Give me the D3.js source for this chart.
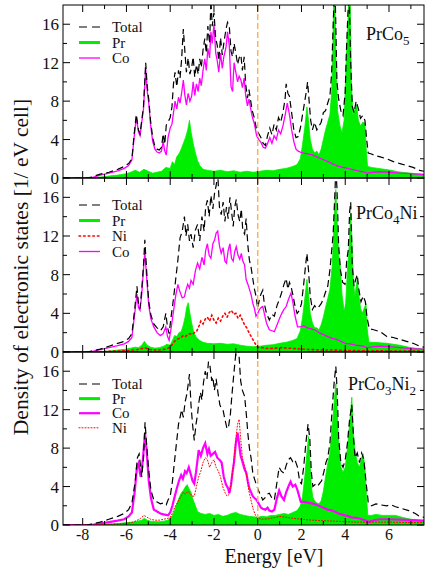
<!DOCTYPE html>
<html><head><meta charset="utf-8">
<script src="https://cdn.jsdelivr.net/npm/d3@7/dist/d3.min.js"></script>
<style>body{margin:0;background:#fff}svg{display:block}text{font-family:'Liberation Serif','Times New Roman',Times,'DejaVu Serif',serif;fill:#111}</style>
</head><body>
<script>
// ---------- data (energy [eV], DOS [1/eV cell]) ----------
const xTicks = [-8,-6,-4,-2,0,2,4,6];
const yTicks = [0,4,8,12,16];
const panelNames = [["PrCo","5",""],["PrCo","4","Ni"],["PrCo","3","Ni","2"]];

const total1 = [[-8.9,0],[-7.8,0],[-7.6,0.1],[-7.2,0.4],[-6.8,0.6],[-6.4,0.9],[-6.1,1.2],[-5.9,1.5],[-5.75,2.0],[-5.65,4.5],[-5.55,6.6],[-5.45,5.0],[-5.38,4.6],[-5.3,6.0],[-5.22,7.5],[-5.12,12.0],[-5.05,9.5],[-4.98,8.2],[-4.9,6.0],[-4.8,4.2],[-4.7,3.3],[-4.6,3.0],[-4.5,2.9],[-4.4,3.2],[-4.32,4.6],[-4.25,3.5],[-4.18,5.5],[-4.1,5.8],[-4.0,6.3],[-3.92,7.4],[-3.85,9.8],[-3.78,11.0],[-3.7,9.5],[-3.62,11.2],[-3.55,10.4],[-3.48,12.3],[-3.4,15.5],[-3.33,13.2],[-3.26,11.0],[-3.18,12.5],[-3.1,10.8],[-3.02,11.5],[-2.95,12.6],[-2.88,10.5],[-2.8,11.8],[-2.72,10.8],[-2.65,12.4],[-2.58,11.5],[-2.5,13.3],[-2.42,14.5],[-2.35,13.0],[-2.28,15.8],[-2.2,14.0],[-2.14,18.5],[-2.08,15.8],[-2.0,17.2],[-1.92,14.5],[-1.85,13.8],[-1.78,12.2],[-1.7,14.6],[-1.62,12.8],[-1.55,14.0],[-1.45,15.5],[-1.38,16.2],[-1.3,15.8],[-1.22,13.2],[-1.15,12.6],[-1.08,14.0],[-1.0,13.0],[-0.92,11.8],[-0.85,12.5],[-0.77,12.8],[-0.7,11.2],[-0.62,12.6],[-0.55,9.8],[-0.47,8.3],[-0.4,9.2],[-0.32,8.0],[-0.25,7.0],[-0.15,6.2],[-0.05,5.0],[0.05,4.6],[0.15,4.2],[0.25,3.6],[0.35,3.4],[0.45,4.4],[0.55,5.2],[0.65,4.5],[0.75,5.6],[0.85,5.0],[0.95,6.3],[1.05,5.8],[1.15,6.8],[1.25,8.2],[1.3,9.8],[1.38,8.8],[1.45,8.5],[1.55,6.8],[1.65,5.0],[1.75,4.2],[1.85,4.3],[1.95,5.2],[2.05,6.6],[2.15,8.0],[2.22,9.0],[2.28,10.0],[2.35,8.0],[2.42,6.0],[2.5,5.0],[2.6,5.8],[2.7,5.0],[2.8,5.4],[2.9,5.8],[3.0,6.8],[3.1,7.0],[3.2,7.8],[3.3,8.5],[3.38,11],[3.45,16],[3.5,19],[3.55,18],[3.62,10],[3.7,8.2],[3.8,7.0],[3.9,6.5],[4.0,9.0],[4.05,13.0],[4.12,17],[4.18,19],[4.25,12],[4.32,7.5],[4.4,6.8],[4.5,8.0],[4.6,7.2],[4.7,6.2],[4.8,6.5],[4.9,6.0],[4.98,4.0],[5.05,2.6],[5.2,2.5],[5.4,2.3],[5.6,2.2],[5.9,2.0],[6.2,1.7],[6.5,1.5],[6.8,1.3],[7.1,1.1],[7.4,0.8],[7.6,0.7]];
const co1 = [[-8.9,0],[-7.7,0],[-7.5,0.1],[-7.2,0.3],[-6.8,0.5],[-6.4,0.75],[-6.1,1.0],[-5.9,1.3],[-5.75,1.9],[-5.65,4.2],[-5.55,6.3],[-5.45,4.8],[-5.38,4.4],[-5.3,5.8],[-5.22,7.2],[-5.12,11.4],[-5.05,9.0],[-4.98,7.8],[-4.9,5.6],[-4.8,3.8],[-4.7,3.0],[-4.6,2.7],[-4.5,2.6],[-4.4,2.8],[-4.32,3.8],[-4.25,2.8],[-4.18,2.4],[-4.1,4.2],[-4.0,5.2],[-3.92,5.6],[-3.85,6.8],[-3.78,8.0],[-3.7,7.2],[-3.62,8.4],[-3.55,7.8],[-3.48,8.8],[-3.4,10.2],[-3.33,8.6],[-3.26,7.6],[-3.18,8.8],[-3.1,8.0],[-3.02,8.5],[-2.95,10.0],[-2.88,8.6],[-2.8,9.8],[-2.72,9.0],[-2.65,10.4],[-2.58,9.6],[-2.5,11.2],[-2.42,12.4],[-2.35,11.2],[-2.28,13.5],[-2.2,12.5],[-2.14,15.2],[-2.08,14.0],[-2.0,16.0],[-1.92,13.0],[-1.85,12.2],[-1.78,11.0],[-1.7,13.0],[-1.62,11.4],[-1.55,12.6],[-1.45,13.6],[-1.38,15.2],[-1.3,13.8],[-1.22,9.5],[-1.15,9.0],[-1.08,12.0],[-1.0,11.0],[-0.92,10.0],[-0.85,10.6],[-0.77,10.2],[-0.7,9.4],[-0.62,10.4],[-0.55,8.6],[-0.47,7.5],[-0.4,8.2],[-0.32,7.2],[-0.25,6.4],[-0.15,5.6],[-0.05,4.4],[0.05,4.0],[0.15,3.7],[0.25,3.2],[0.35,3.1],[0.45,3.6],[0.55,4.2],[0.65,3.6],[0.75,4.4],[0.85,4.0],[0.95,5.0],[1.05,4.6],[1.15,5.4],[1.25,6.5],[1.35,7.8],[1.45,6.6],[1.55,5.0],[1.65,3.8],[1.75,3.0],[1.85,2.8],[1.95,2.7],[2.1,2.6],[2.3,2.5],[2.5,2.4],[2.7,2.2],[2.9,2.0],[3.1,1.8],[3.3,1.6],[3.5,1.4],[3.7,1.2],[3.9,1.1],[4.1,1.0],[4.3,0.9],[4.5,0.8],[4.8,0.65],[5.0,0.5],[5.3,0.6],[5.6,0.65],[6.0,0.6],[6.5,0.5],[7.0,0.45],[7.6,0.35]];
const pr1 = [[-8.9,0],[-7.6,0],[-7.2,0.1],[-6.8,0.2],[-6.4,0.3],[-6.0,0.45],[-5.8,0.6],[-5.6,0.8],[-5.4,0.6],[-5.2,0.9],[-5.0,0.7],[-4.8,0.5],[-4.6,0.6],[-4.4,0.7],[-4.2,1.1],[-4.0,1.0],[-3.9,1.7],[-3.8,1.4],[-3.7,2.2],[-3.6,2.5],[-3.5,3.0],[-3.4,3.6],[-3.3,4.2],[-3.2,5.0],[-3.12,6.0],[-3.05,4.8],[-2.95,3.6],[-2.85,2.6],[-2.75,1.8],[-2.65,1.3],[-2.5,0.9],[-2.3,0.8],[-2.0,0.7],[-1.7,0.8],[-1.4,0.65],[-1.1,0.75],[-0.8,0.6],[-0.5,0.7],[-0.2,0.6],[0.1,0.7],[0.4,0.8],[0.7,0.75],[1.0,0.9],[1.3,1.0],[1.6,1.2],[1.8,1.4],[1.95,2.0],[2.05,3.5],[2.15,5.2],[2.25,7.4],[2.32,6.0],[2.4,4.0],[2.5,3.0],[2.6,2.6],[2.7,2.8],[2.8,2.4],[2.9,3.0],[3.0,4.0],[3.1,5.0],[3.2,5.8],[3.3,6.6],[3.38,9.0],[3.44,14],[3.48,20],[3.52,20],[3.58,12],[3.65,7.0],[3.75,5.5],[3.85,4.7],[3.95,6.0],[4.05,12.5],[4.12,16],[4.18,20],[4.22,20],[4.28,10],[4.35,6.5],[4.45,7.2],[4.52,7.6],[4.6,6.0],[4.7,5.4],[4.8,5.8],[4.9,5.7],[4.96,3.0],[5.02,1.2],[5.2,1.1],[5.5,1.0],[5.8,0.9],[6.1,0.8],[6.4,0.65],[6.8,0.55],[7.2,0.45],[7.6,0.4]];

const total2 = [[-8.9,0],[-7.8,0],[-7.6,0.1],[-7.2,0.3],[-6.8,0.6],[-6.4,0.9],[-6.1,1.1],[-5.9,1.4],[-5.75,1.9],[-5.62,4.5],[-5.52,6.8],[-5.45,5.0],[-5.38,4.5],[-5.3,6.5],[-5.22,9.0],[-5.16,11.6],[-5.08,8.5],[-4.98,5.2],[-4.88,3.8],[-4.75,2.9],[-4.6,2.5],[-4.45,2.2],[-4.32,2.6],[-4.2,4.0],[-4.12,2.5],[-4.05,1.9],[-3.95,3.8],[-3.85,5.5],[-3.75,7.5],[-3.65,9.5],[-3.55,11.8],[-3.45,12.5],[-3.35,14.0],[-3.28,12.0],[-3.2,13.2],[-3.12,11.5],[-3.05,12.2],[-2.95,10.8],[-2.85,12.6],[-2.75,13.2],[-2.65,11.5],[-2.55,14.0],[-2.45,12.5],[-2.38,15.0],[-2.3,15.7],[-2.22,14.0],[-2.14,16.2],[-2.05,14.8],[-1.97,16.5],[-1.9,17.2],[-1.83,18.5],[-1.75,15.0],[-1.67,14.2],[-1.58,15.5],[-1.5,13.5],[-1.43,15.0],[-1.35,13.8],[-1.27,16.0],[-1.2,14.6],[-1.12,13.0],[-1.05,15.0],[-0.98,15.8],[-0.9,14.2],[-0.82,13.5],[-0.75,14.8],[-0.68,12.5],[-0.6,12.2],[-0.53,13.8],[-0.45,11.0],[-0.38,9.5],[-0.3,8.7],[-0.22,7.5],[-0.15,6.5],[-0.08,5.8],[0.0,4.5],[0.08,5.5],[0.15,6.0],[0.23,6.4],[0.3,5.0],[0.4,4.0],[0.53,3.3],[0.65,3.9],[0.76,3.7],[0.88,4.8],[1.0,5.5],[1.1,6.2],[1.2,7.0],[1.3,7.6],[1.38,6.5],[1.45,7.2],[1.52,6.8],[1.6,6.0],[1.7,4.8],[1.8,4.0],[1.9,4.3],[2.0,5.0],[2.1,7.0],[2.18,8.8],[2.25,10.2],[2.32,8.5],[2.4,5.8],[2.5,4.4],[2.6,4.8],[2.7,4.5],[2.8,4.7],[2.9,5.0],[3.0,5.5],[3.1,6.2],[3.2,6.8],[3.3,8.5],[3.4,11.0],[3.45,12.3],[3.52,16],[3.57,19],[3.62,17],[3.7,11],[3.78,8.5],[3.88,7.2],[3.99,7.0],[4.07,9.5],[4.14,10.6],[4.2,14.5],[4.25,15.5],[4.32,9.0],[4.4,6.8],[4.48,7.5],[4.55,8.0],[4.62,6.5],[4.72,5.2],[4.82,5.8],[4.92,5.2],[5.0,3.5],[5.1,2.4],[5.3,2.3],[5.6,2.1],[5.9,1.6],[6.2,1.5],[6.5,1.3],[6.8,1.1],[7.1,0.9],[7.4,0.6],[7.6,0.5]];
const co2 = [[-8.9,0],[-7.7,0],[-7.5,0.1],[-7.2,0.25],[-6.8,0.45],[-6.4,0.65],[-6.1,0.85],[-5.9,1.1],[-5.75,1.5],[-5.62,4.0],[-5.52,6.0],[-5.45,4.6],[-5.38,4.3],[-5.3,6.0],[-5.22,8.6],[-5.16,10.4],[-5.08,7.8],[-4.98,4.8],[-4.88,3.4],[-4.75,2.6],[-4.6,2.0],[-4.45,1.7],[-4.32,1.9],[-4.2,2.6],[-4.12,1.6],[-4.05,1.2],[-3.95,2.6],[-3.85,4.2],[-3.75,5.8],[-3.65,7.0],[-3.55,6.2],[-3.45,5.6],[-3.35,5.7],[-3.28,6.4],[-3.2,7.0],[-3.12,6.6],[-3.05,7.4],[-2.95,7.0],[-2.85,8.4],[-2.75,9.2],[-2.65,8.6],[-2.55,9.8],[-2.45,9.0],[-2.38,10.5],[-2.3,11.2],[-2.22,10.0],[-2.14,9.7],[-2.05,11.2],[-1.97,11.6],[-1.9,12.3],[-1.83,12.5],[-1.75,11.0],[-1.67,10.2],[-1.58,10.8],[-1.5,9.4],[-1.43,9.2],[-1.35,10.5],[-1.27,11.2],[-1.2,9.7],[-1.12,9.4],[-1.05,10.4],[-0.98,10.9],[-0.9,10.0],[-0.82,9.6],[-0.75,10.2],[-0.68,9.4],[-0.6,9.0],[-0.53,7.5],[-0.45,7.0],[-0.38,6.5],[-0.3,5.9],[-0.22,5.0],[-0.15,4.5],[-0.08,3.7],[0.0,4.0],[0.08,4.4],[0.15,4.6],[0.23,4.7],[0.3,4.0],[0.4,3.0],[0.53,2.3],[0.65,2.2],[0.76,2.1],[0.88,2.8],[1.0,3.5],[1.1,4.0],[1.2,4.4],[1.3,4.7],[1.4,5.4],[1.52,6.1],[1.6,5.2],[1.7,3.8],[1.82,2.6],[1.95,2.6],[2.1,2.7],[2.27,2.5],[2.45,2.4],[2.6,2.3],[2.8,2.0],[3.0,1.8],[3.2,1.6],[3.4,1.4],[3.6,1.3],[3.8,1.1],[4.0,0.9],[4.2,0.85],[4.5,0.7],[4.8,0.6],[5.0,0.45],[5.3,0.55],[5.6,0.6],[6.0,0.55],[6.5,0.45],[7.0,0.35],[7.6,0.3]];
const ni2 = [[-8.9,0],[-7.5,0],[-7.0,0.05],[-6.5,0.1],[-6.0,0.12],[-5.7,0.2],[-5.5,0.25],[-5.3,0.35],[-5.15,0.45],[-5.0,0.3],[-4.8,0.2],[-4.6,0.2],[-4.4,0.25],[-4.2,0.3],[-4.0,0.5],[-3.9,0.8],[-3.8,1.1],[-3.7,1.3],[-3.6,1.4],[-3.5,1.5],[-3.4,1.7],[-3.3,1.6],[-3.2,1.8],[-3.1,1.9],[-3.0,1.8],[-2.9,2.0],[-2.8,2.1],[-2.7,2.6],[-2.6,3.2],[-2.5,2.9],[-2.4,3.4],[-2.3,3.6],[-2.2,3.2],[-2.1,3.8],[-2.0,3.3],[-1.9,3.0],[-1.8,3.5],[-1.7,3.2],[-1.6,3.7],[-1.5,4.0],[-1.4,3.6],[-1.3,4.1],[-1.2,4.3],[-1.1,3.9],[-1.0,4.0],[-0.9,3.5],[-0.8,3.8],[-0.7,3.3],[-0.6,2.8],[-0.5,2.5],[-0.4,2.0],[-0.3,1.6],[-0.2,1.2],[-0.1,0.8],[0.0,0.5],[0.2,0.45],[0.5,0.35],[0.8,0.4],[1.1,0.45],[1.4,0.4],[1.7,0.35],[2.0,0.3],[2.5,0.25],[3.0,0.2],[3.5,0.2],[4.0,0.15],[4.5,0.15],[5.0,0.1],[5.5,0.12],[6.0,0.1],[7.0,0.1],[7.6,0.08]];
const pr2 = [[-8.9,0],[-7.6,0],[-7.2,0.05],[-6.8,0.1],[-6.4,0.2],[-6.0,0.3],[-5.8,0.4],[-5.6,0.5],[-5.45,0.45],[-5.3,0.7],[-5.18,1.1],[-5.05,0.7],[-4.9,0.5],[-4.7,0.4],[-4.5,0.45],[-4.3,0.6],[-4.15,0.8],[-4.0,0.7],[-3.9,1.2],[-3.8,1.7],[-3.7,1.6],[-3.6,2.0],[-3.5,2.1],[-3.4,2.8],[-3.32,3.6],[-3.25,4.6],[-3.18,5.1],[-3.1,4.0],[-3.02,3.0],[-2.92,2.0],[-2.8,1.5],[-2.65,1.2],[-2.5,1.0],[-2.3,0.9],[-2.0,0.85],[-1.7,0.9],[-1.4,0.8],[-1.1,0.85],[-0.8,0.7],[-0.5,0.6],[-0.2,0.55],[0.1,0.6],[0.4,0.7],[0.7,0.75],[1.0,0.9],[1.3,1.0],[1.6,1.2],[1.8,1.4],[1.95,2.2],[2.05,3.6],[2.15,5.5],[2.25,7.5],[2.32,6.0],[2.4,4.0],[2.5,3.0],[2.6,2.5],[2.7,2.5],[2.8,2.3],[2.9,2.8],[3.0,3.6],[3.1,4.6],[3.2,5.5],[3.3,6.5],[3.4,8.8],[3.47,12],[3.53,15.5],[3.57,16.8],[3.62,14],[3.7,10],[3.76,9.2],[3.85,6.0],[3.95,4.2],[4.02,5.0],[4.1,8.5],[4.18,11],[4.25,14.4],[4.3,12],[4.37,7.5],[4.44,5.7],[4.5,6.8],[4.55,7.5],[4.62,6.0],[4.7,4.5],[4.78,4.0],[4.88,4.6],[4.95,5.0],[5.0,2.5],[5.08,1.0],[5.3,1.0],[5.6,0.95],[5.9,0.9],[6.2,0.8],[6.5,0.7],[6.9,0.5],[7.2,0.4],[7.6,0.3]];

const total3 = [[-8.9,0],[-7.8,0],[-7.6,0.1],[-7.2,0.3],[-6.8,0.6],[-6.4,0.9],[-6.1,1.2],[-5.9,1.6],[-5.75,2.3],[-5.6,4.5],[-5.5,7.0],[-5.42,7.4],[-5.3,5.0],[-5.22,7.0],[-5.15,10.7],[-5.08,8.5],[-4.98,5.6],[-4.88,3.6],[-4.75,2.6],[-4.6,2.4],[-4.45,2.2],[-4.3,2.3],[-4.18,2.1],[-4.1,2.6],[-4.0,3.0],[-3.9,4.5],[-3.8,6.7],[-3.7,8.8],[-3.62,10.5],[-3.55,11.2],[-3.48,12.0],[-3.4,11.2],[-3.32,12.8],[-3.25,13.5],[-3.18,14.6],[-3.12,15.7],[-3.05,12.5],[-2.98,10.5],[-2.9,8.8],[-2.82,10.5],[-2.75,11.5],[-2.7,12.6],[-2.62,13.8],[-2.55,13.0],[-2.48,14.8],[-2.4,16.0],[-2.32,15.2],[-2.25,17.0],[-2.18,16.5],[-2.1,15.0],[-2.05,15.4],[-1.98,14.0],[-1.9,15.2],[-1.82,13.8],[-1.73,12.5],[-1.64,12.0],[-1.58,11.9],[-1.5,11.0],[-1.4,10.0],[-1.33,10.3],[-1.25,11.5],[-1.18,13.5],[-1.1,15.5],[-1.03,17.2],[-0.97,18.5],[-0.9,19],[-0.85,17.5],[-0.78,15.0],[-0.7,14.0],[-0.6,13.4],[-0.52,11.5],[-0.45,9.5],[-0.38,8.0],[-0.3,6.9],[-0.23,5.5],[-0.15,4.8],[-0.05,4.1],[0.05,3.5],[0.15,3.0],[0.23,2.6],[0.32,2.8],[0.42,3.2],[0.53,3.3],[0.65,2.8],[0.76,2.6],[0.85,4.0],[0.98,6.0],[1.08,5.6],[1.2,5.4],[1.3,6.2],[1.4,6.8],[1.5,7.0],[1.6,6.6],[1.7,6.8],[1.82,6.0],[1.92,4.5],[2.0,4.3],[2.1,6.0],[2.2,8.5],[2.3,10.5],[2.38,9.0],[2.45,5.5],[2.52,4.0],[2.62,4.2],[2.72,4.0],[2.82,4.3],[2.92,4.6],[3.02,5.5],[3.12,6.5],[3.2,7.0],[3.3,8.5],[3.4,12.0],[3.5,15.0],[3.57,16.5],[3.63,14.0],[3.7,9.0],[3.8,6.5],[3.9,6.0],[4.0,6.8],[4.1,8.5],[4.2,11.0],[4.3,12.5],[4.38,9.0],[4.45,7.0],[4.55,7.5],[4.65,6.5],[4.75,7.5],[4.85,6.8],[4.95,4.5],[5.05,2.4],[5.2,2.0],[5.4,2.2],[5.6,2.1],[5.9,2.0],[6.1,2.1],[6.3,1.9],[6.6,1.7],[6.9,1.5],[7.2,1.2],[7.4,0.9],[7.6,0.8]];
const co3 = [[-8.9,0],[-7.7,0],[-7.5,0.05],[-7.2,0.15],[-6.8,0.3],[-6.4,0.45],[-6.1,0.6],[-5.9,0.9],[-5.75,1.3],[-5.62,3.5],[-5.52,6.0],[-5.45,6.4],[-5.35,5.0],[-5.25,6.8],[-5.15,9.5],[-5.08,7.8],[-4.98,4.6],[-4.88,2.8],[-4.75,1.6],[-4.6,1.4],[-4.45,1.2],[-4.3,1.1],[-4.1,1.0],[-4.0,1.3],[-3.9,2.0],[-3.8,2.9],[-3.7,3.8],[-3.6,4.6],[-3.5,5.2],[-3.42,4.8],[-3.32,5.6],[-3.25,5.4],[-3.15,6.0],[-3.05,5.2],[-2.98,4.6],[-2.9,4.3],[-2.82,5.5],[-2.75,6.8],[-2.7,7.8],[-2.6,7.2],[-2.5,8.0],[-2.4,8.5],[-2.3,7.4],[-2.23,7.9],[-2.15,7.2],[-2.05,7.4],[-1.95,7.6],[-1.85,7.0],[-1.75,6.8],[-1.65,6.5],[-1.55,5.0],[-1.45,4.2],[-1.35,3.8],[-1.3,3.3],[-1.22,4.2],[-1.15,5.5],[-1.08,6.6],[-1.0,8.5],[-0.92,9.6],[-0.85,8.4],[-0.78,7.2],[-0.7,6.6],[-0.6,5.8],[-0.52,5.4],[-0.45,4.5],[-0.38,3.8],[-0.3,3.4],[-0.23,3.0],[-0.15,2.8],[-0.05,2.6],[0.05,2.2],[0.15,1.8],[0.23,1.7],[0.35,1.6],[0.45,1.8],[0.53,1.5],[0.65,1.4],[0.76,1.6],[0.88,2.8],[0.98,3.6],[1.08,3.0],[1.2,2.6],[1.3,3.4],[1.4,4.0],[1.5,4.5],[1.6,4.0],[1.72,4.2],[1.82,3.6],[1.97,2.4],[2.1,2.4],[2.35,2.3],[2.55,2.2],[2.8,2.0],[3.0,1.8],[3.2,1.6],[3.4,1.5],[3.6,1.3],[3.8,1.1],[4.0,1.0],[4.3,0.8],[4.6,0.7],[4.9,0.5],[5.1,0.3],[5.3,0.5],[5.6,0.6],[6.0,0.6],[6.5,0.55],[7.0,0.5],[7.6,0.45]];
const ni3 = [[-8.9,0],[-7.5,0],[-7.0,0.05],[-6.5,0.1],[-6.0,0.15],[-5.7,0.3],[-5.5,0.5],[-5.35,0.7],[-5.2,1.0],[-5.05,0.8],[-4.9,0.6],[-4.7,0.5],[-4.5,0.5],[-4.3,0.6],[-4.1,0.7],[-4.0,0.8],[-3.9,1.2],[-3.8,1.8],[-3.7,2.2],[-3.6,2.6],[-3.5,3.0],[-3.4,3.4],[-3.3,3.2],[-3.2,3.5],[-3.1,3.3],[-3.0,3.0],[-2.9,3.0],[-2.8,4.0],[-2.7,5.0],[-2.6,5.6],[-2.5,6.5],[-2.4,7.0],[-2.3,6.8],[-2.2,6.0],[-2.1,6.5],[-2.0,6.8],[-1.9,6.0],[-1.8,5.6],[-1.7,5.0],[-1.6,4.0],[-1.5,3.4],[-1.4,3.0],[-1.3,3.2],[-1.2,4.5],[-1.1,6.5],[-1.0,9.0],[-0.92,10.5],[-0.85,11.0],[-0.78,9.0],[-0.7,7.0],[-0.6,6.2],[-0.5,5.0],[-0.4,3.5],[-0.3,2.5],[-0.2,1.6],[-0.1,1.0],[0.0,0.7],[0.2,0.6],[0.5,0.65],[0.8,0.8],[1.0,0.9],[1.3,0.8],[1.6,0.7],[2.0,0.6],[2.5,0.5],[3.0,0.45],[3.5,0.4],[4.0,0.35],[4.5,0.3],[5.0,0.3],[5.5,0.3],[6.0,0.3],[7.0,0.25],[7.6,0.25]];
const pr3 = [[-8.9,0],[-7.6,0],[-7.2,0.05],[-6.8,0.1],[-6.4,0.15],[-6.0,0.25],[-5.7,0.3],[-5.5,0.4],[-5.3,0.5],[-5.18,0.7],[-5.05,0.5],[-4.9,0.4],[-4.7,0.35],[-4.5,0.35],[-4.3,0.4],[-4.1,0.5],[-4.0,0.7],[-3.9,1.0],[-3.8,1.5],[-3.7,2.2],[-3.6,2.8],[-3.5,3.3],[-3.4,3.6],[-3.3,4.0],[-3.22,4.2],[-3.15,3.8],[-3.05,3.4],[-2.95,2.6],[-2.85,2.0],[-2.75,1.4],[-2.6,1.2],[-2.4,1.1],[-2.2,1.2],[-2.0,1.0],[-1.8,1.1],[-1.6,0.9],[-1.4,1.0],[-1.2,1.2],[-1.0,1.3],[-0.8,1.1],[-0.6,1.0],[-0.4,0.9],[-0.2,0.85],[0.0,0.8],[0.2,0.9],[0.4,0.85],[0.6,1.0],[0.8,1.0],[1.0,1.1],[1.2,1.2],[1.4,1.1],[1.6,1.3],[1.8,1.5],[1.95,2.0],[2.05,3.0],[2.15,5.0],[2.25,7.5],[2.32,9.2],[2.38,7.0],[2.45,4.0],[2.52,2.9],[2.6,2.5],[2.7,2.3],[2.8,2.2],[2.9,2.5],[3.0,3.5],[3.1,5.0],[3.2,6.4],[3.3,7.5],[3.4,10.0],[3.5,13.0],[3.57,14.7],[3.63,12],[3.7,8.5],[3.8,6.0],[3.9,5.5],[4.0,6.0],[4.1,8.0],[4.2,10.5],[4.3,13.3],[4.36,10],[4.44,7.8],[4.55,6.5],[4.65,6.0],[4.75,7.0],[4.82,7.4],[4.9,6.0],[4.97,3.0],[5.03,1.0],[5.2,1.0],[5.4,1.1],[5.7,1.0],[6.0,1.0],[6.3,1.0],[6.6,0.8],[7.0,0.6],[7.3,0.5],[7.6,0.45]];

// ---------- layout ----------
const W = 425, H = 568;
const X0 = 63, X1 = 424;
const FONT = "'Liberation Serif','Times New Roman',Times,'DejaVu Serif',serif";
const panels = [
  {top:5,   bot:178, total:total1, pr:pr1, co:co1, ni:null, coW:1.3, niStyle:null,
   legend:["Total","Pr","Co"], leg0:32},
  {top:178, bot:352, total:total2, pr:pr2, co:co2, ni:ni2, coW:1.3, niStyle:"big",
   legend:["Total","Pr","Ni","Co"], leg0:210},
  {top:352, bot:525, total:total3, pr:pr3, co:co3, ni:ni3, coW:2.2, niStyle:"small",
   legend:["Total","Pr","Co","Ni"], leg0:389}
];
const titlePos = [[366,40],[356,219],[348,390]];

const svg = d3.select("body").append("svg").attr("width",W).attr("height",H)
  .style("font-family",FONT);
const x = d3.scaleLinear().domain([-8.9,7.6]).range([X0,X1]);
const GREEN = "#00ee00", MAG = "#ff00ff";

panels.forEach((p,i)=>{
  const y = d3.scaleLinear().domain([0,18]).range([p.bot,p.top]);
  const g = svg.append("g");
  const cid = "clip"+i;
  svg.append("defs").append("clipPath").attr("id",cid)
    .append("rect").attr("x",X0).attr("y",p.top).attr("width",X1-X0).attr("height",p.bot-p.top);
  const plot = g.append("g").attr("clip-path",`url(#${cid})`);
  const line = d3.line().x(d=>x(d[0])).y(d=>y(d[1]));
  const area = d3.area().x(d=>x(d[0])).y0(y(0)).y1(d=>y(d[1]));
  plot.append("path").datum(p.pr).attr("d",area).attr("fill",GREEN).attr("stroke",GREEN).attr("stroke-width",0.8);
  plot.append("path").datum(p.co).attr("d",line).attr("fill","none").attr("stroke",MAG).attr("stroke-width",p.coW);
  if(p.ni){
    plot.append("path").datum(p.ni).attr("d",line).attr("fill","none").attr("stroke","#ff0000")
      .attr("stroke-width",p.niStyle==="big"?1.6:1.0)
      .attr("stroke-dasharray",p.niStyle==="big"?"1.6,3":"1,2").attr("stroke-linecap","round");
  }
  plot.append("path").datum(p.total).attr("d",line).attr("fill","none").attr("stroke","#000")
    .attr("stroke-width",1.2).attr("stroke-dasharray","7,4");
  // Fermi level
  g.append("line").attr("x1",x(0)).attr("x2",x(0)).attr("y1",p.top).attr("y2",p.bot)
    .attr("stroke","#f6b45e").attr("stroke-width",1.5).attr("stroke-dasharray","6,3");
  // frame
  g.append("rect").attr("x",X0).attr("y",p.top).attr("width",X1-X0).attr("height",p.bot-p.top)
    .attr("fill","none").attr("stroke","#000").attr("stroke-width",1);
  // x ticks (top & bottom, inward)
  d3.range(-8,8,1).forEach(v=>{
    const L = (v%2===0)?7:4;
    g.append("line").attr("x1",x(v)).attr("x2",x(v)).attr("y1",p.bot).attr("y2",p.bot-L).attr("stroke","#000");
    g.append("line").attr("x1",x(v)).attr("x2",x(v)).attr("y1",p.top).attr("y2",p.top+L).attr("stroke","#000");
  });
  // y ticks (left & right, inward)
  d3.range(0,18,2).forEach(v=>{
    const L = (v%4===0)?7:4;
    g.append("line").attr("x1",X0).attr("x2",X0+L).attr("y1",y(v)).attr("y2",y(v)).attr("stroke","#000");
    g.append("line").attr("x1",X1).attr("x2",X1-L).attr("y1",y(v)).attr("y2",y(v)).attr("stroke","#000");
  });
  yTicks.forEach(v=>{
    g.append("text").attr("x",59).attr("y",y(v)+6).attr("text-anchor","end")
      .attr("font-family",FONT).attr("font-size",17).text(v);
  });
  // legend
  p.legend.forEach((name,k)=>{
    const ly = p.leg0 + k*(i===2?14.6:15.5);
    const lx1 = 79, lx2 = 100, mid = ly-5;
    const ln = g.append("line").attr("x1",lx1).attr("x2",lx2).attr("y1",mid).attr("y2",mid);
    if(name==="Total") ln.attr("stroke","#000").attr("stroke-width",1.2).attr("stroke-dasharray","8,5");
    else if(name==="Pr") ln.attr("stroke",GREEN).attr("stroke-width",3);
    else if(name==="Co") ln.attr("stroke",MAG).attr("stroke-width",p.coW);
    else if(name==="Ni") ln.attr("stroke","#ff0000").attr("stroke-width",p.niStyle==="big"?1.6:1)
       .attr("stroke-dasharray",p.niStyle==="big"?"1.6,3":"1,2").attr("stroke-linecap","round");
    g.append("text").attr("x",112).attr("y",ly).attr("font-family",FONT).attr("font-size",15).text(name);
  });
  // title
  const nm = panelNames[i];
  const t = g.append("text").attr("x",titlePos[i][0]).attr("y",titlePos[i][1])
    .attr("font-family",FONT).attr("font-size",18);
  t.append("tspan").text(nm[0]);
  t.append("tspan").attr("font-size",13).attr("dy",5).text(nm[1]);
  if(nm[2]) t.append("tspan").attr("font-size",18).attr("dy",-5).text(nm[2]);
  if(nm[3]) t.append("tspan").attr("font-size",13).attr("dy",5).text(nm[3]);
});

// x tick labels (bottom panel)
xTicks.forEach(v=>{
  svg.append("text").attr("x",x(v)).attr("y",540).attr("text-anchor","middle")
    .attr("font-family",FONT).attr("font-size",16).text(v);
});
svg.append("text").attr("x",274).attr("y",563).attr("text-anchor","middle")
  .attr("font-family",FONT).attr("font-size",20).text("Energy [eV]");
svg.append("text").attr("transform","translate(28,267) rotate(-90)").attr("text-anchor","middle")
  .attr("font-family",FONT).attr("font-size",21.5).text("Density of electronic states [1/ eV cell]");
</script>
</body></html>
